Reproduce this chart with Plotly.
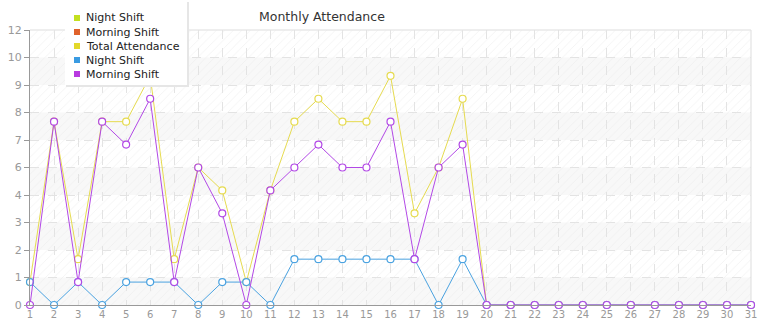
import plotly.graph_objects as go

days = list(range(1, 32))
night_shift = [1, 0, 1, 0, 1, 1, 1, 0, 1, 1, 0, 2, 2, 2, 2, 2, 2, 0, 2, 0] + [0] * 11
morning_shift = [0, 8, 1, 8, 7, 9, 1, 6, 4, 0, 5, 6, 7, 6, 6, 8, 2, 6, 7, 0] + [0] * 11
total_attendance = [1, 8, 2, 8, 8, 10, 2, 6, 5, 1, 5, 8, 9, 8, 8, 10, 4, 6, 9, 0] + [0] * 11

y_tick_vals = [0, 1.2, 2.4, 3.6, 4.8, 6, 7.2, 8.4, 9.6, 10.8, 12]
y_tick_labels = ["0", "1", "2", "3", "4", "6", "7", "8", "9", "10", "12"]

legend_names = ["Night Shift", "Morning Shift", "Total Attendance", "Night Shift", "Morning Shift"]
legend_colors = ["#c3e01f", "#e0622b", "#e3d82a", "#3a9be2", "#b83ae0"]

W, H = 765, 320
ML, MR, MT, MB = 30, 14, 30, 15
PW, PH = W - ML - MR, H - MT - MB


def px_x(px):
    return (px - ML) / PW


def px_y(py):
    return (H - MB - py) / PH


fig = go.Figure()

# hatch background
fig.add_trace(go.Scatter(
    x=[days[0], days[-1], days[-1], days[0], days[0]],
    y=[y_tick_vals[0], y_tick_vals[0], y_tick_vals[-1], y_tick_vals[-1], y_tick_vals[0]],
    mode="lines", line=dict(width=0), fill="toself",
    fillcolor="rgba(0,0,0,0)",
    fillpattern=dict(shape="/", size=6, fgcolor="#e9e9e9", bgcolor="rgba(0,0,0,0)", solidity=0.15),
    hoverinfo="skip", showlegend=False,
))

series = [
    ("Total Attendance", total_attendance, "#e6db4f"),
    ("Night Shift", night_shift, "#4aa2e0"),
    ("Morning Shift", morning_shift, "#b248e6"),
]
for name, vals, col in series:
    fig.add_trace(go.Scatter(
        x=days, y=vals, name=name, mode="lines+markers",
        line=dict(color=col, width=1),
        marker=dict(symbol="circle", size=7, color="white", line=dict(color=col, width=1.2)),
        cliponaxis=False, showlegend=False,
    ))

shapes = []
# alternating bands
for i in range(0, len(y_tick_vals) - 1):
    if i % 2 == 0:
        shapes.append(dict(type="rect", xref="paper", yref="y", x0=0, x1=1,
                           y0=y_tick_vals[i], y1=y_tick_vals[i + 1],
                           fillcolor="#f8f8f8", line=dict(width=0), layer="below"))
# top and right borders
shapes.append(dict(type="line", xref="paper", yref="paper", x0=0, x1=1, y0=1, y1=1,
                   line=dict(color="#dddddd", width=1), layer="below"))
shapes.append(dict(type="line", xref="paper", yref="paper", x0=1, x1=1, y0=0, y1=1,
                   line=dict(color="#dddddd", width=1), layer="below"))

# manual legend box
shapes.append(dict(type="rect", xref="paper", yref="paper",
                   x0=px_x(66), x1=px_x(189), y0=px_y(87), y1=px_y(2),
                   fillcolor="#e6e6e6", line=dict(width=0), layer="above"))
shapes.append(dict(type="rect", xref="paper", yref="paper",
                   x0=px_x(65), x1=px_x(187), y0=px_y(85), y1=px_y(1),
                   fillcolor="white", line=dict(width=0), layer="above"))

annotations = []
for i, (nm, col) in enumerate(zip(legend_names, legend_colors)):
    cy = 18 + 14 * i
    shapes.append(dict(type="rect", xref="paper", yref="paper",
                       x0=px_x(74), x1=px_x(80), y0=px_y(cy + 3), y1=px_y(cy - 3),
                       fillcolor=col, line=dict(width=0), layer="above"))
    annotations.append(dict(text=nm, xref="paper", yref="paper", x=px_x(84), y=px_y(cy),
                            xanchor="left", yanchor="middle", showarrow=False,
                            font=dict(family="DejaVu Sans", size=11, color="#222222")))

annotations.append(dict(text="Monthly Attendance", xref="paper", yref="paper",
                        x=px_x(322), y=px_y(17), xanchor="center", yanchor="middle",
                        showarrow=False,
                        font=dict(family="DejaVu Sans", size=12.5, color="#333333")))

fig.update_layout(
    width=W, height=H,
    margin=dict(l=ML, r=MR, t=MT, b=MB, pad=0, autoexpand=False),
    paper_bgcolor="white", plot_bgcolor="white",
    font=dict(family="DejaVu Sans", size=10, color="#999999"),
    shapes=shapes, annotations=annotations,
    showlegend=False,
)
fig.update_xaxes(
    range=[days[0], days[-1]], tickvals=days, ticktext=[str(d) for d in days],
    showgrid=True, gridcolor="#e3e3e3", griddash="dash", gridwidth=1,
    showline=True, linecolor="#999999", linewidth=1,
    ticks="", tickfont=dict(size=10, color="#999999"), zeroline=False,
    fixedrange=True, automargin=False,
)
fig.update_yaxes(
    range=[y_tick_vals[0], y_tick_vals[-1]], tickvals=y_tick_vals, ticktext=y_tick_labels,
    showgrid=True, gridcolor="#e3e3e3", griddash="dash", gridwidth=1,
    showline=True, linecolor="#999999", linewidth=1,
    ticks="outside", ticklen=5, tickcolor="#999999",
    tickfont=dict(size=11, color="#999999"), zeroline=False,
    fixedrange=True, automargin=False,
)

fig.write_html("out.html")
